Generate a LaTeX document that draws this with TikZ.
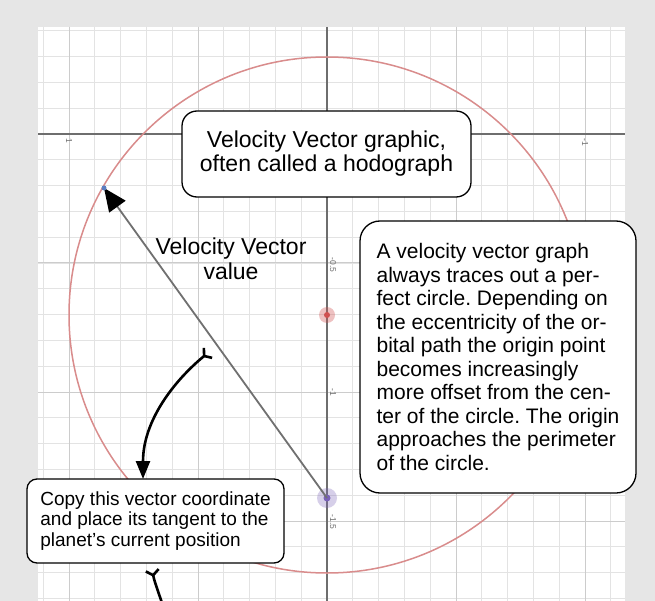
\documentclass[tikz,border=0pt]{standalone}
\usepackage{fontspec}
\setmainfont{Liberation Sans}
\usetikzlibrary{arrows.meta}
\frenchspacing
\definecolor{bggray}{HTML}{E6E6E6}
\definecolor{gridminor}{HTML}{E3E3E3}
\definecolor{gridmajor}{HTML}{CCCCCC}
\definecolor{axisgray}{HTML}{6E6E6E}
\definecolor{circred}{HTML}{D98C8C}
\definecolor{vecgray}{HTML}{707070}
\definecolor{dotred}{HTML}{D05050}
\definecolor{dotpurple}{HTML}{7A62B8}
\definecolor{dotblue}{HTML}{5A7DC0}
\begin{document}
\begin{tikzpicture}[x=1pt,y=-1pt,
  minorline/.style={draw=gridminor,line width=0.9pt},
  majorline/.style={draw=gridmajor,line width=1pt},
  axisline/.style={draw=axisgray,line width=1.4pt},
  ticklabel/.style={font=\fontsize{8.5}{9}\selectfont,text=axisgray,rotate=-90,inner sep=0pt},
  callout/.style={draw=black,line width=1.3pt,fill=white,inner sep=0pt},
  pointer/.style={draw=black,line width=2.6pt,arrows={Straight Barb[reversed,length=5pt,width=13pt]-Triangle[length=18pt,width=14pt]}},
  vecline/.style={draw=vecgray,line width=1.8pt,arrows={-Triangle[length=23pt,width=20pt,color=black]}}
]
\useasboundingbox (0,0) rectangle (655,601);
\fill[bggray] (0,0) rectangle (655,601);
\fill[white] (38,27) rectangle (625,601);
\begin{scope}
\clip (38,27) rectangle (625,601);
\foreach \i in {-11,...,11} \draw[minorline] ({327+\i*25.8},27) -- ({327+\i*25.8},601);
\foreach \j in {-4,...,18} \draw[minorline] (38,{134+\j*25.8}) -- (625,{134+\j*25.8});
\foreach \i in {-2,-1,1,2} \draw[majorline] ({327+\i*129},27) -- ({327+\i*129},601);
\foreach \j in {1,2,3} \draw[majorline] (38,{134+\j*129}) -- (625,{134+\j*129});
\draw[axisline] (38,134) -- (625,134);
\draw[axisline] (327,27) -- (327,601);
\node[ticklabel] (tx1) at (69,141) {1};
\node[ticklabel] (tx2) at (585,142) {-1};
\node[ticklabel] (ty1) at (333,265) {-0.5};
\node[ticklabel] (ty2) at (333,392) {-1};
\node[ticklabel] (ty3) at (333,522) {-1.5};
\draw[circred,line width=1.5pt] (327,315) circle (258);
\end{scope}
% points
\coordinate (center) at (327,315);
\coordinate (orig) at (327,498);
\coordinate (tipv) at (104,188);
\fill[dotred,opacity=0.35] (center) circle (8);
\fill[dotred] (center) circle (3);
\fill[dotpurple,opacity=0.3] (orig) circle (10);
\fill[dotpurple] (orig) circle (3.5);
\draw[vecline] (orig) -- (tipv);
\fill[dotblue] (tipv) circle (2.5);
% labels and boxes
\node[font=\fontsize{23}{25}\selectfont,align=center] (vvlabel) at (231,259) {Velocity Vector\\value};
\node[callout,rounded corners=15pt,minimum width=289pt,minimum height=86pt,
      font=\fontsize{23}{24}\selectfont,align=center] (hodo) at (326.5,154)
      {Velocity Vector graphic,\\often called a hodograph};
\node[callout,rounded corners=20pt,minimum width=276pt,minimum height=272pt,
      font=\fontsize{21}{23.5}\selectfont,align=left] (desc) at (498,357)
      {A velocity vector graph\\always traces out a per-\\fect circle. Depending on\\the eccentricity of the or-\\bital path the origin point\\becomes increasingly\\more offset from the cen-\\ter of the circle. The origin\\approaches the perimeter\\of the circle.};
\node[callout,rounded corners=10pt,minimum width=257pt,minimum height=84pt,
      font=\fontsize{19}{20.5}\selectfont,align=left] (copy) at (155.5,521)
      {Copy this vector coordinate\\and place its tangent to the\\planet’s current position};
% pointer arrows
\coordinate (tail1) at (209,352);
\coordinate (head1) at (143,479);
\draw[pointer] (tail1) .. controls (175,380) and (143,420) .. (head1);
\coordinate (tail2) at (152,569);
\coordinate (head2) at (172,640);
\begin{scope}
\clip (0,0) rectangle (655,601);
\draw[pointer] (tail2) .. controls (155,585) and (162,600) .. (head2);
\end{scope}
\end{tikzpicture}
\end{document}
